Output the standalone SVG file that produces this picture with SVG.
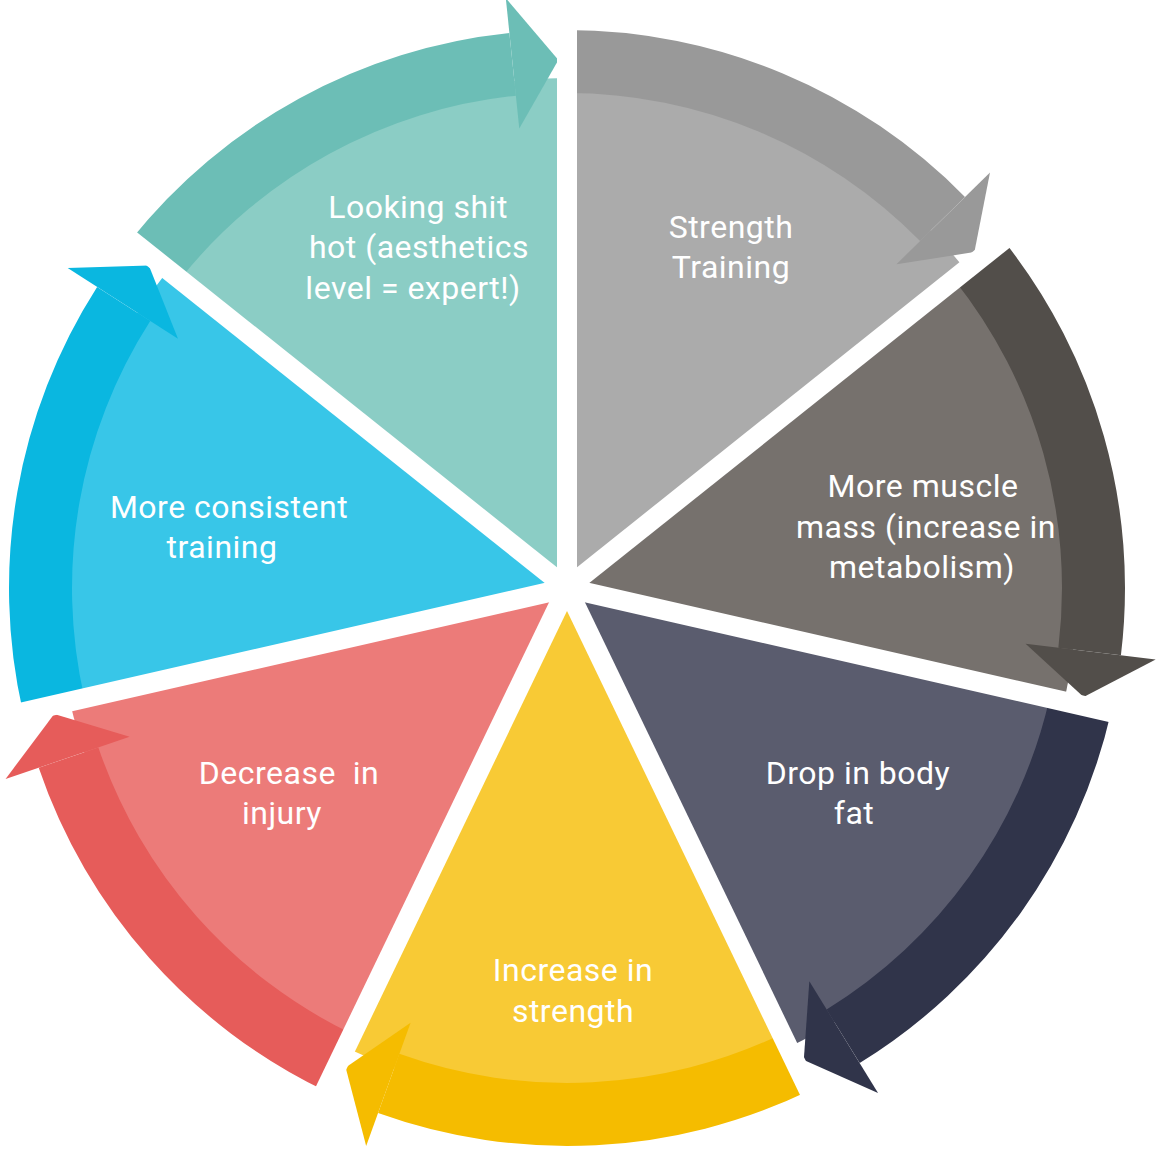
<svg xmlns="http://www.w3.org/2000/svg" width="1160" height="1151" viewBox="0 0 1160 1151">
<style>
text{font-family:Roboto,"Liberation Sans",sans-serif;font-size:32px;fill:#fff;text-anchor:middle;letter-spacing:0.5px}
.gap{stroke:#fff;stroke-width:20}
</style>
<defs>
<path id="wedge" d="M0,0 L510,0 A510,510 0 0 1 318,398.7 Z"/>
<path id="band" d="M558,0 A558,558 0 0 1 391.1,398 L346.9,353.1 A495,495 0 0 0 495,0 Z"/>
<path id="head" d="M323.8,329.5 L415.6,423 L335.9,407.4 Z"/>
<line id="gl" x1="0" y1="0" x2="640" y2="0"/>
</defs>
<rect width="1160" height="1151" fill="#fff"/>
<g id="n1"><use href="#wedge" transform="translate(567,588) rotate(-90)" fill="#ABABAB"/><text x="731" y="238">Strength</text><text x="731" y="278">Training</text></g>
<g id="n2"><use href="#wedge" transform="translate(567,588) rotate(-38.57)" fill="#76716D"/><text x="923" y="497">More muscle</text><text x="926" y="538">mass (increase in</text><text x="922" y="578">metabolism)</text></g>
<g id="n3"><use href="#wedge" transform="translate(567,588) rotate(12.86)" fill="#5A5C6E"/><text x="858" y="784">Drop  in body</text><text x="854" y="824">fat</text></g>
<g id="n4"><use href="#wedge" transform="translate(567,588) rotate(64.29)" fill="#F8CA35"/><text x="573" y="981">Increase in</text><text x="573" y="1022">strength</text></g>
<g id="n5"><use href="#wedge" transform="translate(567,588) rotate(115.71)" fill="#EC7B79"/><text x="289" y="784" xml:space="preserve">Decrease  in</text><text x="282" y="824">injury</text></g>
<g id="n6"><use href="#wedge" transform="translate(567,588) rotate(167.14)" fill="#38C6E8"/><text x="229" y="518">More consistent</text><text x="222" y="558">training</text></g>
<g id="n7"><use href="#wedge" transform="translate(567,588) rotate(218.57)" fill="#8BCDC5"/><text x="418" y="218">Looking shit</text><text x="419" y="258">hot (aesthetics</text><text x="413" y="299">level = expert!)</text></g>
<g id="connectors">
<g transform="translate(567,588) rotate(-90)" fill="#999999"><use href="#band"/><use href="#head"/></g>
<g transform="translate(567,588) rotate(-38.57)" fill="#524E4A"><use href="#band"/><use href="#head"/></g>
<g transform="translate(567,588) rotate(12.86)" fill="#30344A"><use href="#band"/><use href="#head"/></g>
<g transform="translate(567,588) rotate(64.29)" fill="#F5BC00"><use href="#band"/><use href="#head"/></g>
<g transform="translate(567,588) rotate(115.71)" fill="#E65C5A"><use href="#band"/><use href="#head"/></g>
<g transform="translate(567,588) rotate(167.14)" fill="#0AB7E0"><use href="#band"/><use href="#head"/></g>
<g transform="translate(567,588) rotate(218.57)" fill="#6CBEB6"><use href="#band"/><use href="#head"/></g>
</g>
<g id="gaps" class="gap">
<use href="#gl" transform="translate(567,588) rotate(-90)"/>
<use href="#gl" transform="translate(567,588) rotate(-38.57)"/>
<use href="#gl" transform="translate(567,588) rotate(12.86)"/>
<use href="#gl" transform="translate(567,588) rotate(64.29)"/>
<use href="#gl" transform="translate(567,588) rotate(115.71)"/>
<use href="#gl" transform="translate(567,588) rotate(167.14)"/>
<use href="#gl" transform="translate(567,588) rotate(218.57)"/>
</g>
</svg>
